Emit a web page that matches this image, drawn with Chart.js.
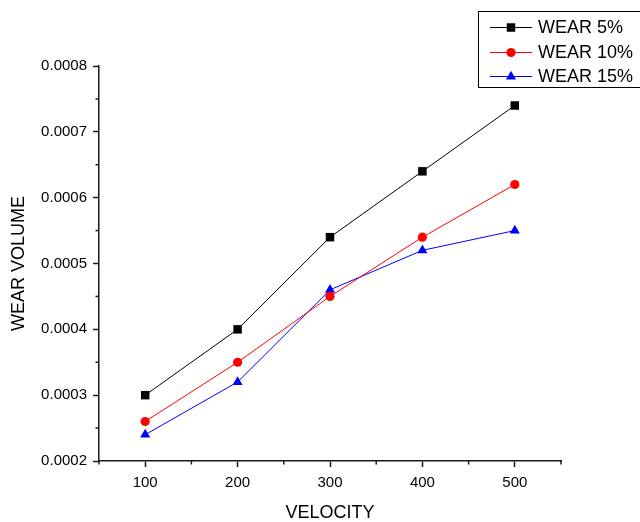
<!DOCTYPE html>
<html>
<head>
<meta charset="utf-8">
<script src="https://cdn.jsdelivr.net/npm/chart.js@4/dist/chart.umd.min.js"></script>
<style>
  html, body { margin: 0; padding: 0; background: #fff; }
  #wrap { width: 640px; height: 522px; position: relative; }
</style>
</head>
<body>
<div id="wrap"><canvas id="c" width="640" height="522"></canvas></div>
<script>
// Velocity values on the x axis
const velocity = [100, 200, 300, 400, 500];
// Wear volume for each reinforcement level
const wear5  = [0.00030, 0.00040, 0.00054, 0.00064, 0.00074];
const wear10 = [0.00026, 0.00035, 0.00045, 0.00054, 0.00062];
const wear15 = [0.00024, 0.00032, 0.00046, 0.00052, 0.00055];
// Series names
const seriesNames = ['WEAR 5%', 'WEAR 10%', 'WEAR 15%'];
// Axis ranges and tick steps
const xRange = [50, 550];
const xStep = 50;
const xLabelStep = 100;
const yRange = [0.0002, 0.0008];
const yStep = 0.00005;
const yLabelStep = 0.0001;

const FONT = '"Liberation Sans", Arial, Helvetica, sans-serif';
const AXIS_COLOR = '#1a1a1a';

function isMajor(v, step) {
  const q = v / step;
  return Math.abs(q - Math.round(q)) < 1e-6;
}

function toPoints(ys) {
  return velocity.map((x, i) => ({ x: x, y: ys[i] }));
}

const styles = [
  { color: '#000000', point: 'rect', radius: 6 },
  { color: '#ff0000', point: 'circle', radius: 4.6 },
  { color: '#0000ff', point: 'triangle', radius: 5.8 }
];
const seriesData = [wear5, wear10, wear15];

const datasets = seriesData.map((ys, i) => ({
  label: seriesNames[i],
  data: toPoints(ys),
  borderColor: styles[i].color,
  backgroundColor: styles[i].color,
  borderWidth: 1,
  pointStyle: styles[i].point,
  pointRadius: styles[i].radius,
  pointHoverRadius: styles[i].radius,
  pointBorderWidth: 0,
  tension: 0
}));

// Short minor ticks between the labelled ones
const minorTicks = {
  id: 'minorTicks',
  afterDraw(chart) {
    const ctx = chart.ctx;
    ctx.save();
    ctx.strokeStyle = AXIS_COLOR;
    ctx.lineWidth = 1.5;
    const xs = chart.scales.x, ys = chart.scales.y;
    xs.ticks.forEach(t => {
      if (isMajor(t.value, xLabelStep)) return;
      const px = xs.getPixelForValue(t.value);
      ctx.beginPath();
      ctx.moveTo(px, xs.top);
      ctx.lineTo(px, xs.top + 3.5);
      ctx.stroke();
    });
    ys.ticks.forEach(t => {
      if (isMajor(t.value, yLabelStep)) return;
      const py = ys.getPixelForValue(t.value);
      ctx.beginPath();
      ctx.moveTo(ys.right, py);
      ctx.lineTo(ys.right - 3.5, py);
      ctx.stroke();
    });
    ctx.restore();
  }
};

// Boxed legend in the upper right corner
const boxLegend = {
  id: 'boxLegend',
  afterDraw(chart) {
    const ctx = chart.ctx;
    const box = { left: 478.5, top: 11.5, right: 641, bottom: 87.5 };
    const rowY = [27, 52, 76];
    ctx.save();
    ctx.strokeStyle = '#000';
    ctx.lineWidth = 1;
    ctx.strokeRect(box.left, box.top, box.right - box.left, box.bottom - box.top);
    chart.data.datasets.forEach((ds, i) => {
      const y = rowY[i];
      ctx.strokeStyle = ds.borderColor;
      ctx.lineWidth = 1;
      ctx.beginPath();
      ctx.moveTo(490, y + 0.5);
      ctx.lineTo(532, y + 0.5);
      ctx.stroke();
      ctx.fillStyle = ds.backgroundColor;
      Chart.helpers.drawPoint(ctx, { pointStyle: ds.pointStyle, radius: ds.pointRadius, borderWidth: 0, rotation: 0 }, 511, y + 0.5);
      ctx.fillStyle = '#000';
      ctx.font = '18px ' + FONT;
      ctx.textBaseline = 'middle';
      ctx.textAlign = 'left';
      ctx.fillText(ds.label, 538, y + 1);
    });
    ctx.restore();
  }
};

new Chart(document.getElementById('c'), {
  type: 'line',
  data: { datasets: datasets },
  plugins: [minorTicks, boxLegend],
  options: {
    responsive: false,
    animation: false,
    devicePixelRatio: 1,
    layout: { padding: { top: 66, right: 79, left: 0, bottom: 0 } },
    plugins: { legend: { display: false }, tooltip: { enabled: false } },
    scales: {
      x: {
        type: 'linear',
        min: xRange[0],
        max: xRange[1],
        afterFit(s) { s.height = 61; },
        border: { display: true, color: AXIS_COLOR, width: 1.5 },
        grid: {
          drawOnChartArea: false,
          drawTicks: true,
          tickLength: 6,
          tickWidth: 1.5,
          tickColor: c => (c.tick && isMajor(c.tick.value, xLabelStep)) ? AXIS_COLOR : 'rgba(0,0,0,0)'
        },
        ticks: {
          stepSize: xStep,
          autoSkip: false,
          maxRotation: 0,
          padding: 7,
          color: '#000',
          font: { family: FONT, size: 15 },
          callback: v => isMajor(v, xLabelStep) && v !== xRange[1] && v !== xRange[0] ? String(v) : ''
        },
        title: {
          display: true,
          text: 'VELOCITY',
          color: '#000',
          font: { family: FONT, size: 18, lineHeight: 1.2 },
          padding: { top: 0, bottom: -2 }
        }
      },
      y: {
        type: 'linear',
        min: yRange[0],
        max: yRange[1],
        afterFit(s) { s.width = 99; },
        border: { display: true, color: AXIS_COLOR, width: 1.5 },
        grid: {
          drawOnChartArea: false,
          drawTicks: true,
          tickLength: 6,
          tickWidth: 1.5,
          tickColor: c => (c.tick && isMajor(c.tick.value, yLabelStep)) ? AXIS_COLOR : 'rgba(0,0,0,0)'
        },
        ticks: {
          stepSize: yStep,
          autoSkip: false,
          padding: 6,
          color: '#000',
          font: { family: FONT, size: 15 },
          callback: v => isMajor(v, yLabelStep) ? v.toFixed(4) : ''
        },
        title: {
          display: true,
          text: 'WEAR VOLUME',
          color: '#000',
          font: { family: FONT, size: 18, lineHeight: 1.2 },
          padding: { top: 8, bottom: 0 }
        }
      }
    }
  }
});
</script>
</body>
</html>
